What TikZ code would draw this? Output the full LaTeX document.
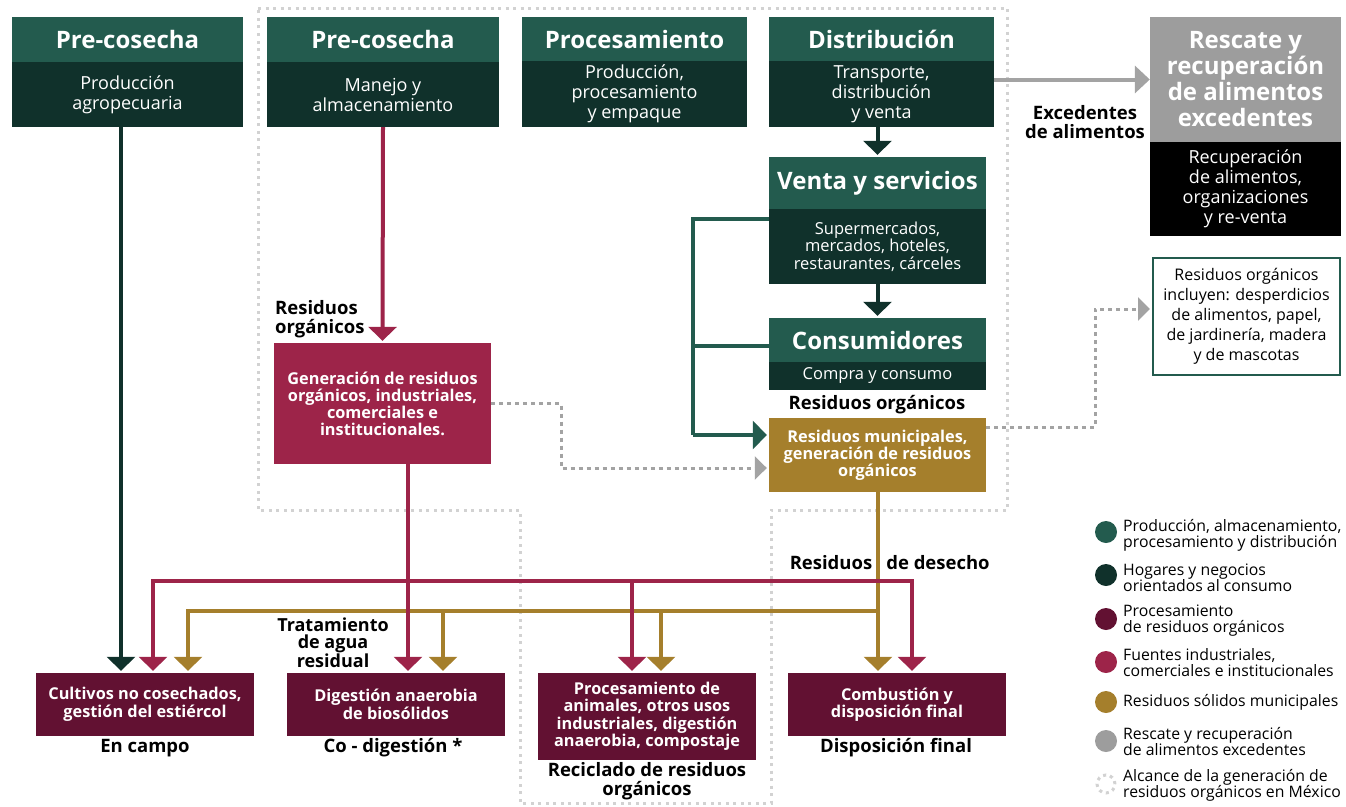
\documentclass[tikz,border=0pt]{standalone}
\usepackage{fontspec}
\setmainfont{Open Sans}
\usepackage{xcolor}
\usepackage{tikz}
\usetikzlibrary{arrows.meta,positioning}

\definecolor{verdeA}{HTML}{235B4E}
\definecolor{verdeB}{HTML}{10312B}
\definecolor{guinda}{HTML}{9D2449}
\definecolor{guindaB}{HTML}{621132}
\definecolor{dorado}{HTML}{A57F2C}
\definecolor{gris}{HTML}{9D9D9D}
\definecolor{grisB}{HTML}{A3A3A3}
\definecolor{grisclaro}{HTML}{D2D2D2}

\tikzset{
  box/.style={inner sep=0pt, align=center, text=white},
  head/.style={box, fill=verdeA, font=\bfseries\fontsize{24}{26}\selectfont},
  body/.style={box, fill=verdeB, font=\fontsize{18}{20}\selectfont},
  sbody/.style={box, fill=verdeB, font=\fontsize{16.5}{17.5}\selectfont},
  wbox/.style={box, font=\bfseries\fontsize{16.3}{17}\selectfont},
  endbox/.style={box, fill=guindaB, minimum width=218pt, font=\bfseries\fontsize{16.3}{17.5}\selectfont},
  lbl/.style={inner sep=0pt, align=center, font=\bfseries\fontsize{18.5}{19}\selectfont},
  leg/.style={circle, inner sep=0pt, minimum size=22pt},
  legtxt/.style={inner sep=0pt, align=left, anchor=west, font=\fontsize{15.8}{16}\selectfont},
  tip/.style={-{Triangle[width=28pt,length=14pt]}, shorten >=2pt},
  verdearr/.style={tip, draw=verdeB, line width=4pt},
  brazo/.style={draw=verdeA, line width=4pt},
  fuearr/.style={tip, draw=guinda, line width=4pt},
  munarr/.style={tip, draw=dorado, line width=4pt},
  grisarr/.style={draw=grisB, line width=4pt, -{Triangle[width=27pt,length=15pt]}},
  puntos/.style={draw=grisB, line width=3pt, dash pattern=on 4pt off 4pt, -{Triangle[width=23pt,length=12pt]}, shorten >=2pt},
  alcance/.style={draw=grisclaro, line width=3pt, dash pattern=on 3pt off 4.5pt}
}

\begin{document}
\begin{tikzpicture}[x=1pt,y=-1pt]
\useasboundingbox (0,0) rectangle (1346,806);

% alcance
\draw[alcance] (258,8) -- (1007,8) -- (1007,510) -- (771,510) -- (771,803) -- (520,803) -- (520,510) -- (258,510) -- cycle;

% cadena superior
\node[head, minimum width=231pt, minimum height=45pt] (h1) at (127.5,39.5) {Pre-cosecha};
\node[body, minimum width=231pt, minimum height=65pt] (b1) at (127.5,94.5) {Producción\\agropecuaria};
\node[head, minimum width=232pt, minimum height=45pt] (h2) at (383,39.5) {Pre-cosecha};
\node[body, minimum width=232pt, minimum height=65pt] (b2) at (383,94.5) {Manejo y\\almacenamiento};
\node[head, minimum width=225pt, minimum height=44pt] (h3) at (634.5,39) {Procesamiento};
\node[body, minimum width=225pt, minimum height=66pt] (b3) at (634.5,94) {Producción,\\procesamiento\\y empaque};
\node[head, minimum width=225pt, minimum height=44pt] (h4) at (881.5,39) {Distribución};
\node[body, minimum width=225pt, minimum height=66pt] (b4) at (881.5,94) {Transporte,\\distribución\\y venta};

\node[head, fill=gris, minimum width=191pt, minimum height=125pt] (rh) at (1245.5,79.5) {Rescate y\\recuperación\\de alimentos\\excedentes};
\node[body, fill=black, minimum width=191pt, minimum height=94pt] (rb) at (1245.5,189) {Recuperación\\de alimentos,\\organizaciones\\y re-venta};

\node[head, minimum width=217pt, minimum height=52pt] (vh) at (877.5,183) {Venta y servicios};
\node[sbody, minimum width=217pt, minimum height=75pt] (vb) at (877.5,246.5) {Supermercados,\\mercados, hoteles,\\restaurantes, cárceles};
\node[head, minimum width=217pt, minimum height=44pt] (ch) at (877.5,340) {Consumidores};
\node[sbody, minimum width=217pt, minimum height=28pt] (cb) at (877.5,376) {Compra y consumo};

\node[wbox, fill=dorado, minimum width=217pt, minimum height=74pt] (mun) at (877.5,455) {Residuos municipales,\\generación de residuos\\orgánicos};
\node[wbox, fill=guinda, minimum width=217pt, minimum height=121pt] (fue) at (382.5,403.5) {Generación de residuos\\orgánicos, industriales,\\comerciales e\\institucionales.};

\node[draw=verdeA, line width=2pt, inner sep=0pt, align=center, minimum width=187pt, minimum height=117pt,
  font=\fontsize{16}{20}\selectfont] (nota) at (1246.5,316.5) {Residuos orgánicos\\incluyen: desperdicios\\de alimentos, papel,\\de jardinería, madera\\y de mascotas};

% destinos
\node[endbox, minimum height=63pt] (cul) at (145,704.5) {Cultivos no cosechados,\\gestión del estiércol};
\node[endbox, minimum height=63pt] (dig) at (396,704.5) {Digestión anaerobia\\de biosólidos};
\node[endbox, minimum height=87pt] (prc) at (647,716.5) {Procesamiento de\\animales, otros usos\\industriales, digestión\\anaerobia, compostaje};
\node[endbox, minimum height=63pt] (com) at (897,704.5) {Combustión y\\disposición final};

% etiquetas
\node[lbl, align=left, anchor=west] (lro1) at (275,319) {Residuos\\orgánicos};
\node[lbl] (lro2) at (877,405) {Residuos orgánicos};
\node[lbl] (lexc) at (1085,122) {Excedentes\\de alimentos};
\node[lbl, font=\bfseries\fontsize{18}{17}\selectfont] (ltrat) at (333,643) {Tratamiento\\de agua\\residual};
\node[lbl] (lres) at (831,563) {Residuos};
\node[lbl] (ldes) at (938,563) {de desecho};
\node[lbl] (lcam) at (145,748) {En campo};
\node[lbl] (lco) at (393,748) {Co - digestión *};
\node[lbl] (lrec) at (647,781) {Reciclado de residuos\\orgánicos};
\node[lbl] (ldis) at (896,748) {Disposición final};

% puntos de llegada
\coordinate (t1) at ([xshift=-24pt]cul.north);
\coordinate (t2) at ([xshift=8pt]cul.north);
\coordinate (t3) at ([xshift=43pt]cul.north);
\coordinate (t4) at ([xshift=12pt]dig.north);
\coordinate (t5) at ([xshift=47pt]dig.north);
\coordinate (t6) at ([xshift=-15pt]prc.north);
\coordinate (t7) at ([xshift=14pt]prc.north);
\coordinate (t8) at ([xshift=-19pt]com.north);
\coordinate (t9) at ([xshift=15pt]com.north);
\coordinate (busG) at (0,581);
\coordinate (busD) at (0,611);
\coordinate (gx) at (693,0);

% flechas
\draw[verdearr] (b1.south -| t1) -- (t1);
\draw[fuearr] (b2.south) -- (fue.north);
\draw[verdearr] (b4.south -| vh.north) -- (vh.north);
\draw[verdearr] (vb.south) -- (ch.north);
\draw[grisarr] (b4.east |- rh.west) -- (rh.west);

\draw[brazo] ([yshift=27.5pt]vb.west) -- ([yshift=27.5pt]vb.west -| gx) -- ([yshift=20pt]mun.west -| gx);
\draw[brazo, tip] ([yshift=20pt]mun.west -| gx) -- ([yshift=20pt]mun.west);
\draw[brazo] ([yshift=-6pt]ch.west) -- ([yshift=-6pt]ch.west -| gx);

\draw[puntos] (fue.east) -- ++(70,0) |- ([yshift=-13pt]mun.west);
\draw[puntos] ([yshift=28pt]mun.east) -- ++(109,0) |- ([yshift=7.5pt]nota.west);

\draw[munarr] (t8 |- mun.south) -- (t8);
\draw[munarr] (t8 |- busD) -| (t3);
\draw[munarr] (t5 |- busD) -- (t5);
\draw[munarr] (t7 |- busD) -- (t7);

\draw[fuearr] (t4 |- fue.south) -- (t4);
\draw[fuearr] (t6 |- busG) -| (t2);
\draw[fuearr] (t6 |- busG) -| (t9);
\draw[fuearr] (t6 |- busG) -- (t6);

% leyenda
\node[leg, fill=verdeA] (c1) at (1106,532) {};
\node[legtxt] (l1) at (1123,535) {Producción, almacenamiento,\\procesamiento y distribución};
\node[leg, fill=verdeB] (c2) at (1106,575) {};
\node[legtxt] (l2) at (1123,578) {Hogares y negocios\\orientados al consumo};
\node[leg, fill=guindaB] (c3) at (1106,619) {};
\node[legtxt] (l3) at (1123,621) {Procesamiento\\de residuos orgánicos};
\node[leg, fill=guinda] (c4) at (1106,662) {};
\node[legtxt] (l4) at (1123,663) {Fuentes industriales,\\comerciales e institucionales};
\node[leg, fill=dorado] (c5) at (1106,702) {};
\node[legtxt] (l5) at (1123,702) {Residuos sólidos municipales};
\node[leg, fill=gris] (c6) at (1106,741) {};
\node[legtxt] (l6) at (1123,742) {Rescate y recuperación\\de alimentos excedentes};
\node[leg, minimum size=18pt, draw=grisclaro, line width=3pt, dash pattern=on 3pt off 4pt] (c7) at (1106,784) {};
\node[legtxt] (l7) at (1123,785) {Alcance de la generación de\\residuos orgánicos en México};
\end{tikzpicture}
\end{document}
